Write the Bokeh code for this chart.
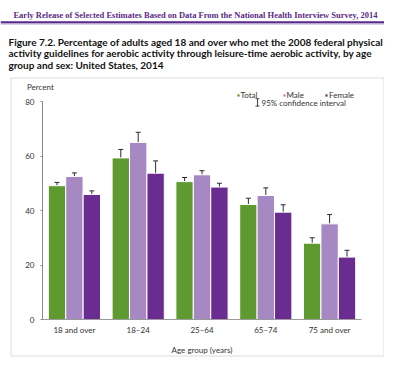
from bokeh.plotting import figure
from bokeh.models import (ColumnDataSource, Whisker, TeeHead, Label, BoxAnnotation,
                          Legend, LegendItem, FixedTicker, Range1d)
from bokeh.transform import dodge
from bokeh.embed import file_html
from bokeh.resources import INLINE

groups = ["18 and over", "18\u201324", "25\u201364", "65\u201374", "75 and over"]
series = ["Total", "Male", "Female"]

total = [49.1, 59.3, 50.6, 42.2, 28.0]
total_lo = [48.1, 56.3, 49.5, 40.1, 25.7]
total_hi = [50.3, 62.4, 52.1, 44.5, 30.0]

male = [52.5, 65.0, 53.1, 45.5, 35.1]
male_lo = [51.3, 61.2, 51.4, 42.7, 31.4]
male_hi = [53.8, 68.7, 54.6, 48.3, 38.5]

female = [45.9, 53.7, 48.6, 39.4, 22.9]
female_lo = [44.9, 49.3, 47.3, 36.8, 20.4]
female_hi = [47.2, 58.2, 50.0, 42.1, 25.4]

y_ticks = [0, 20, 40, 60, 80]

colors = {"Total": "#5e9a2f", "Male": "#a689c2", "Female": "#6a2c91"}
FONT = "Lato"
FS = "8px"
TXT = "#333333"

W, H = 384, 357
# plot area in canvas pixels: x 42..361, y 101 (80%) .. 319 (0%)
L, R, T, B = 42, 361, 101, 319
gpx = (R - L) / len(groups)
ypx = (B - T) / 80.0
x_start = -0.5 - L / gpx
x_end = len(groups) - 0.5 + (W - R) / gpx
y_start = -(H - B) / ypx
y_end = 80 + T / ypx

p = figure(width=W, height=H, x_range=Range1d(x_start, x_end), y_range=Range1d(y_start, y_end),
           output_backend="svg", toolbar_location=None,
           min_border=0, min_border_left=0, min_border_right=0,
           min_border_top=0, min_border_bottom=0)
p.background_fill_color = "white"
p.border_fill_color = "white"
p.outline_line_color = None
p.grid.grid_line_color = None

src = ColumnDataSource(dict(x=list(range(len(groups))), g=groups,
                            Total=total, Total_lo=total_lo, Total_hi=total_hi,
                            Male=male, Male_lo=male_lo, Male_hi=male_hi,
                            Female=female, Female_lo=female_lo, Female_hi=female_hi))

offsets = {"Total": -0.273, "Male": 0.0, "Female": 0.273}
legend_x = {"Total": 235.5, "Male": 281.5, "Female": 324.0}
for s in series:
    r = p.vbar(x=dodge("x", offsets[s]), top=s, width=0.272, source=src,
               fill_color=colors[s], line_color="white", line_width=1)
    w = Whisker(base=dodge("x", offsets[s]), upper=s + "_hi", lower=s + "_lo",
                source=src, line_color="#2b2b2b", line_width=1,
                upper_head=TeeHead(size=5, line_color="#2b2b2b", line_width=1),
                lower_head=TeeHead(size=5, line_color="#2b2b2b", line_width=1))
    p.add_layout(w)
    leg = Legend(items=[LegendItem(label=s, renderers=[r])], orientation="horizontal",
                 location=(legend_x[s], H - 99.5),
                 glyph_width=4, glyph_height=4, label_standoff=1, spacing=0,
                 padding=0, margin=0, label_height=10, label_text_font=FONT,
                 label_text_font_size=FS, label_text_color=TXT,
                 border_line_color=None, background_fill_alpha=0)
    p.add_layout(leg, "center")

# axes drawn at fixed positions so they take no border space
p.yaxis.fixed_location = -0.5
p.yaxis.bounds = (0, 80)
p.yaxis.ticker = FixedTicker(ticks=y_ticks)
p.yaxis.major_tick_out = 2
p.yaxis.major_tick_in = 0
p.yaxis.minor_tick_line_color = None
p.yaxis.major_label_standoff = 6
p.yaxis.axis_line_color = "#8a8a8a"
p.yaxis.major_tick_line_color = "#8a8a8a"

p.xaxis.fixed_location = 0
p.xaxis.bounds = (-0.5, len(groups) - 0.5)
p.xaxis.ticker = FixedTicker(ticks=list(range(len(groups))))
p.xaxis.major_label_overrides = {i: g for i, g in enumerate(groups)}
p.xaxis.major_tick_line_color = None
p.xaxis.minor_tick_line_color = None
p.xaxis.major_tick_out = 0
p.xaxis.major_tick_in = 0
p.xaxis.axis_line_color = "#9a9a9a"
p.xaxis.major_label_standoff = 5
p.xaxis.axis_label = "Age group (years)"
p.xaxis.axis_label_standoff = 7
p.xaxis.axis_label_text_font_style = "normal"
for ax in (p.xaxis, p.yaxis):
    ax.major_label_text_font = FONT
    ax.major_label_text_font_size = FS
    ax.major_label_text_color = TXT
    ax.axis_label_text_font = FONT
    ax.axis_label_text_font_size = FS
    ax.axis_label_text_color = TXT

# page decorations (canvas units)
def cbox(l, r, t, b, **kw):
    p.add_layout(BoxAnnotation(left=l, right=r, top=t, bottom=b, left_units="canvas",
                               right_units="canvas", top_units="canvas", bottom_units="canvas", **kw))

cbox(0, W, 20.7, 22.4, fill_color="#5b2a86", fill_alpha=1, line_color=None)
cbox(0, W, 22.4, 24.0, fill_color="#b9a3d3", fill_alpha=1, line_color=None)
cbox(10.5, 383.5, 77.5, 355.5, fill_alpha=0, line_color="#8c8c8c", line_width=1)

p.add_layout(Label(x=195, y=14, x_units="canvas", y_units="canvas",
                   text="Early Release of Selected Estimates Based on Data From the National Health Interview Survey, 2014",
                   text_font="Liberation Serif", text_font_style="bold", text_font_size="8.5px",
                   text_color="#5b2a86", text_align="center", text_baseline="middle"))

title_lines = ["Figure 7.2. Percentage of adults aged 18 and over who met the 2008 federal physical",
               "activity guidelines for aerobic activity through leisure-time aerobic activity, by age",
               "group and sex: United States, 2014"]
for i, t in enumerate(title_lines):
    p.add_layout(Label(x=8, y=41.3 + 11.4 * i, x_units="canvas", y_units="canvas", text=t,
                       text_font=FONT, text_font_style="bold", text_font_size="10px",
                       text_color="#111111", text_align="left", text_baseline="alphabetic"))

p.add_layout(Label(x=26.5, y=86, x_units="canvas", y_units="canvas", text="Percent",
                   text_font=FONT, text_font_size=FS, text_color=TXT,
                   text_align="left", text_baseline="middle"))

# CI legend icon
cbox(256.5, 257.5, 97.7, 106, fill_color="#444444", fill_alpha=1, line_color=None)
cbox(255, 259, 97.7, 98.7, fill_color="#444444", fill_alpha=1, line_color=None)
cbox(255, 259, 105, 106, fill_color="#444444", fill_alpha=1, line_color=None)
p.add_layout(Label(x=261, y=102.7, x_units="canvas", y_units="canvas", text="95% confidence interval",
                   text_font=FONT, text_font_size=FS, text_color=TXT,
                   text_align="left", text_baseline="middle"))

open("out.html", "w").write(file_html(p, INLINE))
